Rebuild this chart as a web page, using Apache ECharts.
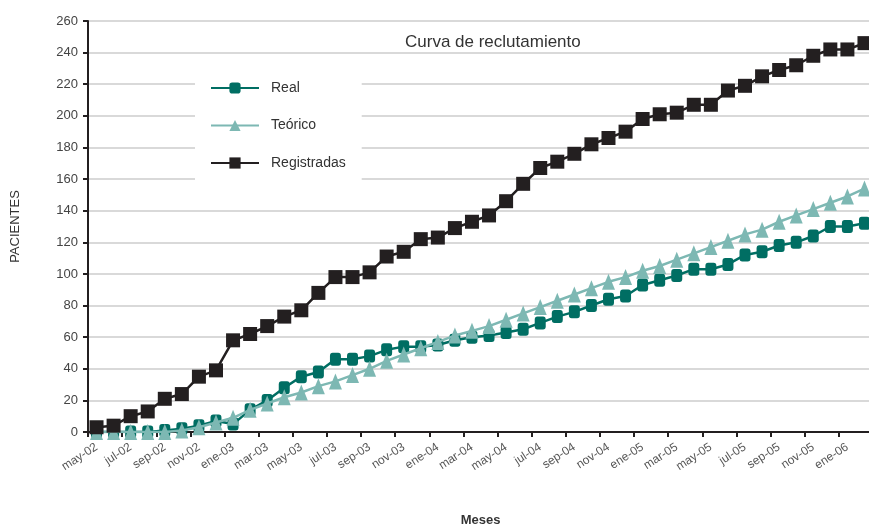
<!DOCTYPE html>
<html>
<head>
<meta charset="utf-8">
<script src="https://cdn.jsdelivr.net/npm/echarts@6/dist/echarts.min.js"></script>
<style>html,body{margin:0;padding:0;background:#fff}#c{width:869px;height:526px}</style>
</head>
<body>
<div id="c"></div>
<script>
const months = ['may-02','jun-02','jul-02','ago-02','sep-02','oct-02','nov-02','dic-02',
 'ene-03','feb-03','mar-03','abr-03','may-03','jun-03','jul-03','ago-03','sep-03','oct-03','nov-03','dic-03',
 'ene-04','feb-04','mar-04','abr-04','may-04','jun-04','jul-04','ago-04','sep-04','oct-04','nov-04','dic-04',
 'ene-05','feb-05','mar-05','abr-05','may-05','jun-05','jul-05','ago-05','sep-05','oct-05','nov-05','dic-05',
 'ene-06','feb-06'];
const real = [0,0,0,0,1,2,4,7, 5,14,20,28,35,38,46,46,48,52,54,54,
 55,58,60,61,63,65,69,73,76,80,84,86, 93,96,99,103,103,106,112,114,118,120,124,130, 130,132];
const teorico = [0,0,0,0,0,1,3,6, 9,14,18,22,25,29,32,36,40,45,49,53,
 57,61,64,67,71,75,79,83,87,91,95,98, 102,105,109,113,117,121,125,128,133,137,141,145, 149,154];
const registradas = [3,4,10,13,21,24,35,39, 58,62,67,73,77,88,98,98,101,111,114,122,
 123,129,133,137,146,157,167,171,176,182,186,190, 198,201,202,207,207,216,219,225,229,232,238,242, 242,246];
const yTicks = {min: 0, max: 260, interval: 20};

const FONT = 'Liberation Sans';
const chart = echarts.init(document.getElementById('c'));
chart.setOption({
  animation: false,
  textStyle: {fontFamily: FONT},
  title: {
    text: 'Curva de reclutamiento', left: 400, top: 29,
    textStyle: {fontSize: 17, fontWeight: 'normal', color: '#333', fontFamily: FONT}
  },
  legend: {
    orient: 'vertical', left: 195, top: 63,
    padding: [18, 16, 15, 15],
    backgroundColor: '#fff',
    itemWidth: 48, itemHeight: 14, itemGap: 23.5,
    textStyle: {fontSize: 14, color: '#333', fontFamily: FONT, padding: [0, 0, 0, 7]},
    data: ['Real', 'Teórico', 'Registradas']
  },
  grid: {left: 88, right: -4, top: 21, bottom: 94, containLabel: false, outerBoundsMode: 'none'},
  xAxis: {
    type: 'category', data: months, boundaryGap: true,
    name: 'Meses', nameLocation: 'middle', nameGap: 82,
    nameTextStyle: {fontSize: 13, fontWeight: 'bold', color: '#333', fontFamily: FONT},
    axisLine: {lineStyle: {color: '#231f20', width: 2}},
    axisTick: {show: true, interval: 1, length: 5, lineStyle: {color: '#231f20', width: 2}},
    axisLabel: {interval: 1, rotate: 33, fontSize: 12, color: '#555', margin: 14, fontFamily: FONT},
    splitLine: {show: false}
  },
  yAxis: {
    type: 'value', min: yTicks.min, max: yTicks.max, interval: yTicks.interval,
    name: 'PACIENTES', nameLocation: 'middle', nameGap: 66, nameRotate: 90,
    nameTextStyle: {fontSize: 13, color: '#333', fontFamily: FONT},
    axisLine: {show: true, lineStyle: {color: '#231f20', width: 2}},
    axisTick: {show: true, length: 5, lineStyle: {color: '#231f20', width: 2}},
    axisLabel: {fontSize: 13, color: '#444', margin: 10, fontFamily: FONT},
    splitLine: {show: true, lineStyle: {color: '#d9d9d9', width: 2}}
  },
  series: [
    {name: 'Real', type: 'line', data: real, symbol: 'roundRect', symbolSize: [11, 13],
     showSymbol: true, showAllSymbol: true,
     itemStyle: {color: '#006e63'}, lineStyle: {color: '#006e63', width: 2.5}, z: 2},
    {name: 'Teórico', type: 'line', data: teorico, symbol: 'triangle', symbolSize: [13, 16],
     showSymbol: true, showAllSymbol: true,
     itemStyle: {color: '#7db8b3'}, lineStyle: {color: '#7db8b3', width: 2.5}, z: 3},
    {name: 'Registradas', type: 'line', data: registradas, symbol: 'rect', symbolSize: 14,
     showSymbol: true, showAllSymbol: true,
     itemStyle: {color: '#231f20'}, lineStyle: {color: '#231f20', width: 2.5}, z: 4}
  ]
});
</script>
</body>
</html>
